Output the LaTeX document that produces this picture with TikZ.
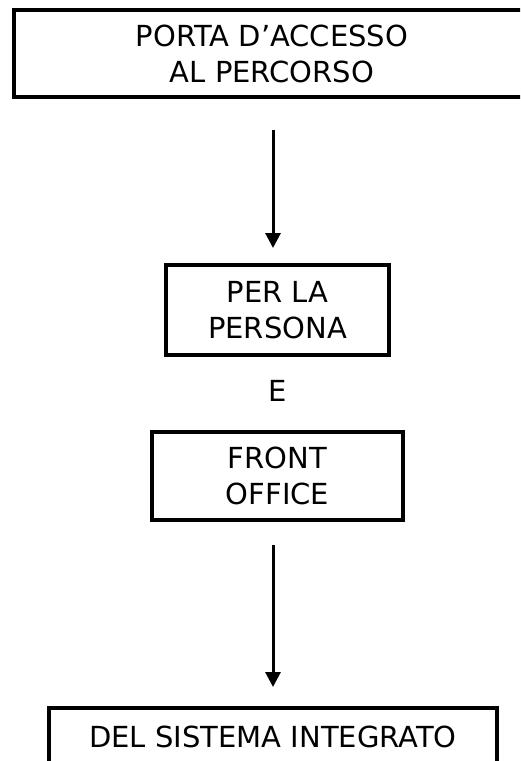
\documentclass[tikz,border=0pt]{standalone}
\usepackage{fontspec}
\setmainfont{DejaVu Sans}
\usetikzlibrary{arrows.meta}
\begin{document}
\begin{tikzpicture}[x=1pt,y=-1pt,
 box/.style={draw=black, line width=3.5pt, rectangle, inner sep=0pt, outer sep=0pt},
 txt/.style={font=\fontsize{29}{36}\selectfont, align=center},
 arr/.style={line width=3pt, -{Triangle[width=15pt,length=15pt]}}]
\useasboundingbox (0,0) rectangle (520,761);
\clip (0,0) rectangle (520,761);
\node[box, txt, minimum width=516pt, minimum height=87pt] (top) at (272,53.5) {PORTA D'ACCESSO\\AL PERCORSO};
\node[box, txt, minimum width=223pt, minimum height=90pt] (pp) at (277.5,310) {PER LA\\PERSONA};
\node[txt] (e) at (277.5,391) {E};
\node[box, txt, minimum width=251pt, minimum height=88pt] (fo) at (277.5,476) {FRONT\\OFFICE};
\node[box, txt, minimum width=448pt, minimum height=58pt] (dsi) at (273,737) {DEL SISTEMA INTEGRATO};
\draw[arr, shorten <=33pt, shorten >=17pt] ([xshift=1pt]top.south) -- ([xshift=-4.5pt]pp.north);
\draw[arr, shorten <=25pt, shorten >=21pt] ([xshift=-4.5pt]fo.south) -- (dsi.north);
\end{tikzpicture}
\end{document}
